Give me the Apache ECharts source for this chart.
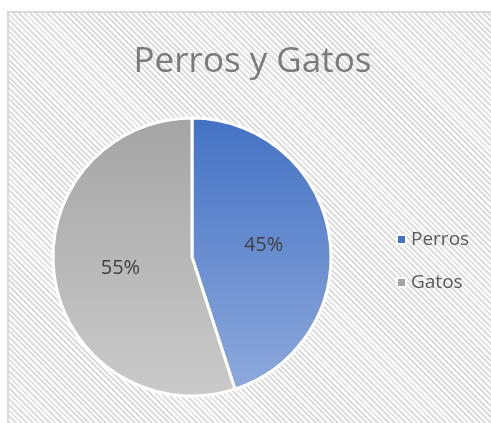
<!DOCTYPE html>
<html>
<head>
<meta charset="utf-8">
<script src="https://cdn.jsdelivr.net/npm/echarts@6/dist/echarts.min.js"></script>
<style>
    html, body { margin: 0; padding: 0; background: #fff; overflow: hidden; }
    #frame {
        position: absolute; left: 7px; top: 11px; width: 500px; height: 430px;
        border-left: 2px solid #d9d9d9; border-top: 2px solid #d9d9d9;
        background: repeating-linear-gradient(45deg, #ffffff 0px, #ffffff 2px, #dedede 2px, #dedede 4px);
    }
    #main { position: absolute; left: 0; top: 0; width: 505px; height: 423px; }
</style>
</head>
<body>
<div id="frame"></div>
<div id="main"></div>
<script>
    var titleText = 'Perros y Gatos';
    var categories = ['Perros', 'Gatos'];
    var values = [45, 55];

    // degradados verticales como en el original
    var fills = [
        {type: 'linear', x: 0, y: 118, x2: 0, y2: 396, global: true,
            colorStops: [{offset: 0, color: '#4472c4'}, {offset: 1, color: '#8faadc'}]},
        {type: 'linear', x: 0, y: 118, x2: 0, y2: 396, global: true,
            colorStops: [{offset: 0, color: '#a5a5a5'}, {offset: 1, color: '#cacaca'}]}
    ];

    var pieData = [];
    for (var i = 0; i < categories.length; i++) {
        pieData.push({name: categories[i], value: values[i], itemStyle: {color: fills[i]}});
    }

    var myChart = echarts.init(document.getElementById('main'));
    var option = {
        animation: false,
        title: {
            text: titleText,
            left: 'center',
            top: 40,
            textStyle: {
                fontFamily: 'Open Sans',
                fontSize: 35,
                fontWeight: 'normal',
                color: '#7a7a7a'
            }
        },
        legend: {
            orient: 'vertical',
            left: 391,
            top: 225,
            icon: 'rect',
            itemWidth: 9,
            itemHeight: 9,
            itemGap: 24,
            data: categories,
            textStyle: {
                fontFamily: 'Open Sans',
                fontSize: 19,
                color: '#595959'
            }
        },
        series: [{
            type: 'pie',
            center: [192, 257],
            radius: 139,
            startAngle: 90,
            clockwise: true,
            data: pieData,
            itemStyle: {borderColor: '#ffffff', borderWidth: 3},
            label: {
                show: true,
                position: 'inside',
                formatter: '{d}%',
                fontFamily: 'Open Sans',
                fontSize: 20,
                color: '#404040'
            },
            labelLine: {show: false},
            emphasis: {disabled: true}
        }]
    };
    myChart.setOption(option);
</script>
</body>
</html>
